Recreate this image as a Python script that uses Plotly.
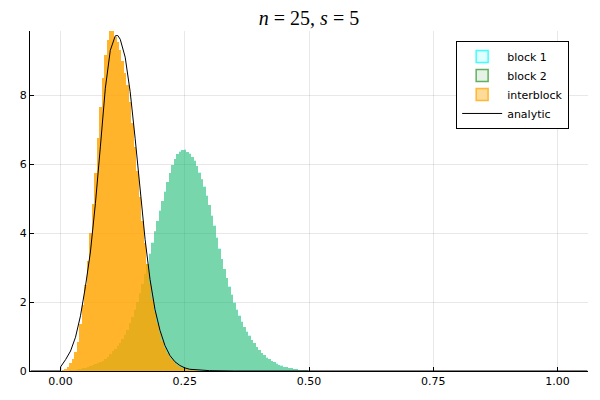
import plotly.graph_objects as go

# ---------------- data ----------------
BIN_W = 0.005

block1_start = 0.010
block1_density = [
    0.005, 0.01, 0.015, 0.02, 0.03, 0.04, 0.06, 0.08, 0.10, 0.12,
    0.14, 0.17, 0.19, 0.23, 0.26, 0.30, 0.36, 0.42, 0.49, 0.57,
    0.65, 0.74, 0.82, 0.94, 1.06, 1.20, 1.37, 1.57, 1.79, 2.01,
    2.24, 2.53, 2.81, 3.09, 3.41, 3.73, 4.04, 4.36, 4.66, 4.92,
    5.21, 5.47, 5.74, 5.98, 6.14, 6.30, 6.37, 6.40, 6.44, 6.35,
    6.31, 6.20, 6.12, 5.95, 5.77, 5.55, 5.37, 5.10, 4.81, 4.52,
    4.22, 3.88, 3.57, 3.26, 2.96, 2.71, 2.46, 2.22, 1.99, 1.79,
    1.61, 1.44, 1.29, 1.15, 1.03, 0.91, 0.81, 0.70, 0.61, 0.53,
    0.46, 0.40, 0.34, 0.30, 0.25, 0.22, 0.18, 0.16, 0.13, 0.11,
    0.10, 0.08, 0.07, 0.06, 0.04, 0.035, 0.03, 0.02, 0.012, 0.005,
]

block2_start = 0.010
block2_density = [
    0.005, 0.01, 0.015, 0.02, 0.03, 0.045, 0.06, 0.08, 0.10, 0.12,
    0.14, 0.165, 0.19, 0.22, 0.26, 0.30, 0.35, 0.42, 0.50, 0.57,
    0.65, 0.73, 0.82, 0.93, 1.05, 1.20, 1.38, 1.57, 1.78, 2.00,
    2.25, 2.52, 2.80, 3.10, 3.40, 3.72, 4.05, 4.35, 4.65, 4.93,
    5.20, 5.48, 5.75, 5.97, 6.15, 6.28, 6.35, 6.42, 6.40, 6.36,
    6.30, 6.22, 6.10, 5.94, 5.75, 5.56, 5.35, 5.08, 4.80, 4.50,
    4.20, 3.87, 3.55, 3.24, 2.95, 2.69, 2.45, 2.20, 1.98, 1.78,
    1.60, 1.43, 1.28, 1.14, 1.02, 0.90, 0.80, 0.69, 0.60, 0.52,
    0.45, 0.39, 0.34, 0.29, 0.25, 0.21, 0.18, 0.15, 0.13, 0.11,
    0.09, 0.08, 0.07, 0.05, 0.04, 0.035, 0.03, 0.02, 0.01, 0.005,
]

inter_start = 0.005
inter_density = [
    0.02, 0.05, 0.12, 0.22, 0.36, 0.55, 0.85, 1.35, 1.90, 2.50,
    3.20, 4.00, 4.85, 5.75, 6.75, 7.65, 8.50, 9.15, 9.60, 9.85,
    9.86, 9.70, 9.55, 9.30, 9.00, 8.65, 8.30, 7.80, 7.20, 6.50,
    5.80, 5.05, 4.35, 3.70, 3.10, 2.55, 2.10, 1.70, 1.38, 1.10,
    0.87, 0.68, 0.53, 0.41, 0.31, 0.23, 0.17, 0.13, 0.09, 0.07,
    0.05, 0.04, 0.03, 0.02, 0.015, 0.01, 0.005, 0.003,
]

analytic_x = [-0.06, 0.0, 0.0, 0.01, 0.02, 0.03, 0.04, 0.05, 0.06, 0.07,
              0.08, 0.09, 0.10, 0.11, 0.115, 0.12, 0.13, 0.14, 0.15, 0.16,
              0.17, 0.18, 0.19, 0.20, 0.21, 0.22, 0.23, 0.24, 0.25, 0.26,
              0.28, 0.30, 0.35, 1.06]
analytic_y = [0.0, 0.0, 0.12, 0.33, 0.58, 0.98, 1.60, 2.45, 3.45, 4.85,
              6.50, 8.20, 9.30, 9.72, 9.73, 9.62, 9.10, 8.10, 6.75, 5.25,
              3.82, 2.65, 1.78, 1.18, 0.74, 0.45, 0.27, 0.16, 0.09, 0.05,
              0.02, 0.01, 0.0, 0.0]

x_ticks = [0.0, 0.25, 0.50, 0.75, 1.00]
x_tick_labels = ["0.00", "0.25", "0.50", "0.75", "1.00"]
y_ticks = [0, 2, 4, 6, 8]
y_tick_labels = ["0", "2", "4", "6", "8"]

series_names = ["block 1", "block 2", "interblock", "analytic"]


def centers(start, n):
    return [round(start + i * BIN_W, 4) for i in range(n)]


# ---------------- figure ----------------
fig = go.Figure()

hist_specs = [
    (block1_start, block1_density, "rgba(0,255,255,0.30)"),
    (block2_start, block2_density, "rgba(0,128,0,0.32)"),
    (inter_start, inter_density, "rgba(255,165,0,0.83)"),
]
for start, dens, col in hist_specs:
    fig.add_trace(go.Bar(
        x=centers(start, len(dens)), y=dens, width=BIN_W,
        marker=dict(color=col, line=dict(width=0)),
        showlegend=False, hoverinfo="skip",
    ))

fig.add_trace(go.Scatter(
    x=analytic_x, y=analytic_y, mode="lines",
    line=dict(color="black", width=1), showlegend=False,
))

# legend entries (swatches as in the reference legend)
legend_styles = [
    ("rgba(0,255,255,0.12)", "rgba(0,255,255,0.75)"),
    ("rgba(0,128,0,0.10)", "rgba(0,128,0,0.6)"),
    ("rgba(255,165,0,0.40)", "rgba(255,165,0,0.75)"),
]
for name, (fc, lc) in zip(series_names[:3], legend_styles):
    fig.add_trace(go.Bar(
        x=[None], y=[None], name=name,
        marker=dict(color=fc, line=dict(color=lc, width=1.5)),
    ))
fig.add_trace(go.Scatter(
    x=[None], y=[None], name=series_names[3], mode="lines",
    line=dict(color="black", width=1),
))

axis_common = dict(
    showgrid=True, gridcolor="rgba(0,0,0,0.09)", gridwidth=0.5,
    zeroline=False, showline=True, linecolor="black", linewidth=1,
    ticks="inside", ticklen=4, tickcolor="black", mirror=False,
    tickfont=dict(family="DejaVu Sans", size=11, color="black"),
)

# the page places the figure 8px from the top-left corner of the window,
# so the figure is 8px smaller and the left/top margins 8px narrower.
fig.update_layout(
    width=592, height=392,
    margin=dict(l=20, r=12, t=23, b=28),
    paper_bgcolor="white", plot_bgcolor="white",
    barmode="overlay", bargap=0,
    title=dict(
        text="<i>n</i> = 25, <i>s</i> = 5",
        x=0.5, xref="paper", xanchor="center",
        y=1.0, yref="container", yanchor="top",
        pad=dict(t=3, b=0, l=0, r=0),
        font=dict(family="Liberation Serif", size=20, color="black"),
    ),
    xaxis=dict(range=[-0.0616, 1.0614], tickvals=x_ticks,
               ticktext=x_tick_labels, **axis_common),
    yaxis=dict(range=[0, 9.86], tickvals=y_ticks,
               ticktext=y_tick_labels, **axis_common),
    legend=dict(
        x=0.7637, y=0.9707, xanchor="left", yanchor="top",
        bgcolor="white", bordercolor="black", borderwidth=1,
        font=dict(family="DejaVu Sans", size=11, color="black"),
        tracegroupgap=0, itemwidth=40,
    ),
)

fig.write_html("out.html")
